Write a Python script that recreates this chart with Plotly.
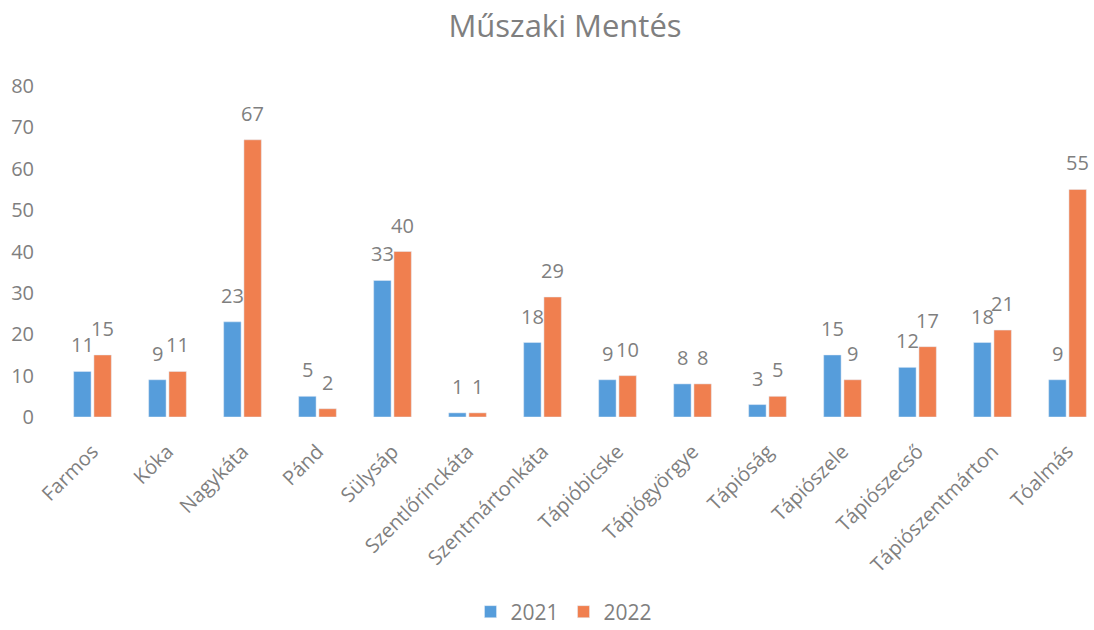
import plotly.graph_objects as go

categories = ["Farmos", "Kóka", "Nagykáta", "Pánd", "Sülysáp", "Szentlőrinckáta",
              "Szentmártonkáta", "Tápióbicske", "Tápiógyörgye", "Tápióság",
              "Tápiószele", "Tápiószecső", "Tápiószentmárton", "Tóalmás"]
values_2021 = [11, 9, 23, 5, 33, 1, 18, 9, 8, 3, 15, 12, 18, 9]
values_2022 = [15, 11, 67, 2, 40, 1, 29, 10, 8, 5, 9, 17, 21, 55]
y_ticks = [0, 10, 20, 30, 40, 50, 60, 70, 80]

gray = "#7f7f7f"
font_family = "Open Sans, Liberation Sans, sans-serif"

WIDTH, HEIGHT = 1094, 630
ML, MR, MT, MB = 55, 0, 86, 213
BARGAP, GROUPGAP = 0.46, 0.14
X_RANGE = [-0.5, 13.353]

fig = go.Figure()
fig.add_trace(go.Bar(name="2021", x=categories, y=values_2021, marker_color="#569ddb"))
fig.add_trace(go.Bar(name="2022", x=categories, y=values_2022, marker_color="#f07f4f"))

# data labels above each bar (offset derived from the bar group geometry)
px_per_cat = (WIDTH - ML - MR) / (X_RANGE[1] - X_RANGE[0])
slot = px_per_cat * (1 - BARGAP) / 2
annotations = []
for series, sign in ((values_2021, -1), (values_2022, 1)):
    for cat, v in zip(categories, series):
        annotations.append(dict(x=cat, y=v, xref="x", yref="y", text=str(v),
                                showarrow=False, yanchor="bottom", xanchor="center",
                                xshift=sign * slot / 2, yshift=11,
                                font=dict(size=20, color=gray)))

fig.update_layout(
    width=WIDTH, height=HEIGHT,
    paper_bgcolor="white", plot_bgcolor="white",
    font=dict(family=font_family, color=gray),
    title=dict(text="Műszaki Mentés", x=565 / WIDTH, xanchor="center", y=1 - 26 / HEIGHT,
               yanchor="middle", font=dict(size=31, color=gray)),
    barmode="group", bargap=BARGAP, bargroupgap=GROUPGAP,
    margin=dict(l=ML, r=MR, t=MT, b=MB, autoexpand=False),
    showlegend=True,
    legend=dict(orientation="h", x=(564 - ML) / (WIDTH - ML - MR), xanchor="center",
                y=(HEIGHT - MB - 612) / (HEIGHT - MT - MB), yanchor="middle",
                font=dict(size=21, color=gray), tracegroupgap=0),
    annotations=annotations,
)
fig.update_xaxes(range=X_RANGE, tickangle=-45, tickfont=dict(size=20, color=gray),
                 showgrid=False, showline=False, ticks="", ticklabelstandoff=18,
                 automargin=False)
fig.update_yaxes(range=[0, 80], tickvals=y_ticks, tickfont=dict(size=20, color=gray),
                 showgrid=False, zeroline=False, showline=False, ticks="",
                 ticklabelstandoff=20, automargin=False)

fig.write_html("out.html", config={"displayModeBar": False},
               post_script="document.body.style.margin='0';")
